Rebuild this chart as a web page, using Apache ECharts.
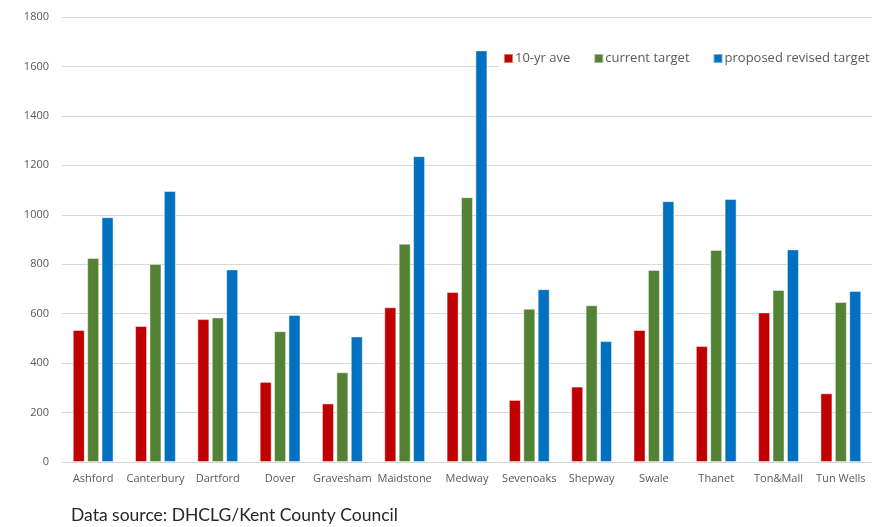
<!DOCTYPE html>
<html>
<head>
<meta charset="utf-8">
<script src="https://cdn.jsdelivr.net/npm/echarts@6/dist/echarts.min.js"></script>
<style>
  html, body { margin: 0; padding: 0; background: #fff; }
  #main { width: 872px; height: 527px; }
</style>
</head>
<body>
<div id="main"></div>
<script>
var districts = ['Ashford', 'Canterbury', 'Dartford', 'Dover', 'Gravesham', 'Maidstone', 'Medway',
    'Sevenoaks', 'Shepway', 'Swale', 'Thanet', 'Ton&Mall', 'Tun Wells'];
var tenYrAve = [534, 550, 578, 324, 237, 626, 688, 251, 305, 534, 469, 605, 278];
var currentTarget = [825, 801, 585, 529, 363, 883, 1071, 620, 634, 777, 858, 696, 647];
var proposedTarget = [990, 1096, 779, 595, 508, 1237, 1665, 699, 489, 1055, 1064, 860, 692];
var yTicks = [0, 200, 400, 600, 800, 1000, 1200, 1400, 1600, 1800];

var chartDom = document.getElementById('main');
var myChart = echarts.init(chartDom);
var option;

var labelColor = '#595959';
var gridColor = '#d9d9d9';

function barSeries(name, data, color) {
    return {
        name: name,
        type: 'bar',
        data: data,
        barWidth: 12,
        barGap: '20%',
        itemStyle: {
            color: color,
            borderColor: 'rgba(255,255,255,0.45)',
            borderWidth: 1
        }
    };
}

option = {
    animation: false,
    textStyle: { fontFamily: 'Open Sans' },
    title: {
        text: 'Data source: DHCLG/Kent County Council',
        left: 71,
        top: 506,
        padding: 0,
        textStyle: {
            fontFamily: 'Lato',
            fontWeight: 'normal',
            fontSize: 17.5,
            color: '#262626'
        }
    },
    legend: {
        data: ['10-yr ave', 'current target', 'proposed revised target'],
        left: 499,
        top: 48,
        width: 420,
        padding: [4, 4, 4, 4],
        backgroundColor: '#fff',
        icon: 'rect',
        itemWidth: 9,
        itemHeight: 9,
        itemGap: 23,
        textStyle: {
            fontFamily: 'Open Sans',
            color: labelColor,
            fontSize: 13,
            padding: [0, 0, 0, -3]
        }
    },
    grid: {
        left: 62,
        right: -6,
        top: 17,
        bottom: 65,
        containLabel: false
    },
    xAxis: {
        type: 'category',
        data: districts,
        axisLine: { lineStyle: { color: gridColor, width: 1 } },
        axisTick: { show: false },
        axisLabel: { fontFamily: 'Open Sans', color: labelColor, fontSize: 11, margin: 11, interval: 0 }
    },
    yAxis: {
        type: 'value',
        min: yTicks[0],
        max: yTicks[yTicks.length - 1],
        interval: 200,
        axisLine: { show: false },
        axisTick: { show: false },
        axisLabel: {
            fontFamily: 'Open Sans',
            color: labelColor,
            fontSize: 11,
            margin: 13,
            formatter: function (v) { return String(v); }
        },
        splitLine: { lineStyle: { color: gridColor, width: 1 } }
    },
    series: [
        barSeries('10-yr ave', tenYrAve, '#c00000'),
        barSeries('current target', currentTarget, '#548235'),
        barSeries('proposed revised target', proposedTarget, '#0070c0')
    ]
};

option && myChart.setOption(option);
</script>
</body>
</html>
